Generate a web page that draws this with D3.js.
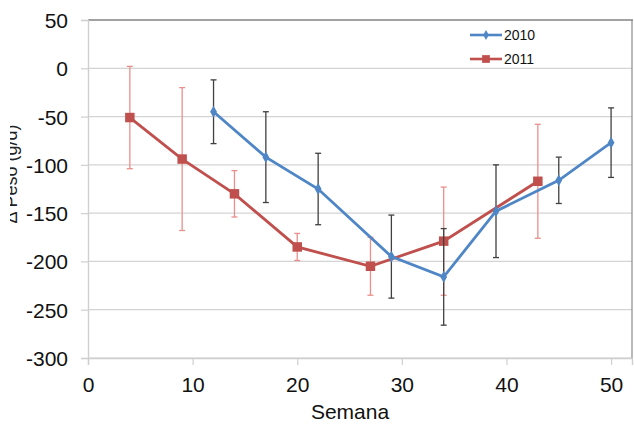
<!DOCTYPE html>
<html>
<head>
<meta charset="utf-8">
<script src="https://cdn.jsdelivr.net/npm/d3@7"></script>
<style>
  body { margin: 0; background: #fff; }
  svg { display: block; font-family: "Liberation Sans", Arial, sans-serif; }
</style>
</head>
<body>
<svg id="chart" width="634" height="428"></svg>
<script>
// semana, valor medio y error de cada serie
const weeks2010 = [12, 17, 22, 29, 34, 39, 45, 50];
const values2010 = [-45, -92, -125, -195, -216, -148, -116, -77];
const errors2010 = [33, 47, 37, 43, 50, 48, 24, 36];

const weeks2011 = [4, 9, 14, 20, 27, 34, 43];
const values2011 = [-51, -94, -130, -185, -205, -179, -117];
const errors2011 = [53, 74, 24, 14, 30, 56, 59];

const xTicks = [0, 10, 20, 30, 40, 50];
const yTicks = [50, 0, -50, -100, -150, -200, -250, -300];

const svg = d3.select('#chart');
const plotL = 88, plotR = 632, plotT = 20, plotB = 358;

const x = d3.scaleLinear().domain([0, 52]).range([plotL, plotR]);
const y = d3.scaleLinear().domain([-300, 50]).range([plotB, plotT]);

// gridlines
svg.append('g')
    .selectAll('line')
    .data(yTicks)
    .join('line')
    .attr('x1', plotL).attr('x2', plotR)
    .attr('y1', d => y(d)).attr('y2', d => y(d))
    .attr('stroke', '#d4d4d4')
    .attr('stroke-width', 1.2);

// frame top + right
svg.append('line')
    .attr('x1', plotL).attr('x2', plotR + 1)
    .attr('y1', plotT).attr('y2', plotT)
    .attr('stroke', '#8a8a8a').attr('stroke-width', 1.6);
svg.append('line')
    .attr('x1', plotR).attr('x2', plotR)
    .attr('y1', plotT).attr('y2', plotB)
    .attr('stroke', '#8a8a8a').attr('stroke-width', 1.2);

// axes (plain hyphen for negatives, like Excel)
const fmt = d => String(d);
const yAxis = svg.append('g')
    .attr('transform', `translate(${plotL},0)`)
    .call(d3.axisLeft(y).tickValues(yTicks).tickFormat(fmt).tickSize(7).tickPadding(13));
const xAxis = svg.append('g')
    .attr('transform', `translate(0,${plotB})`)
    .call(d3.axisBottom(x).tickValues(xTicks).tickFormat(fmt).tickSize(7).tickPadding(12));

[yAxis, xAxis].forEach(ax => {
    ax.select('.domain').attr('stroke', '#cfcfcf').attr('stroke-width', 1.4);
    ax.selectAll('.tick line').attr('stroke', '#cfcfcf').attr('stroke-width', 1.2);
    ax.selectAll('.tick text')
        .attr('fill', '#111')
        .style('font-size', '21px')
        .style('font-family', '"Liberation Sans", Arial, sans-serif');
});
xAxis.selectAll('.tick text').attr('dy', '0.71em');
yAxis.selectAll('.tick text').attr('dy', '0.36em');

svg.append('text')
    .attr('x', 350).attr('y', 419)
    .attr('text-anchor', 'middle')
    .attr('fill', '#111')
    .style('font-size', '21px')
    .text('Semana');

// y title, cut at the left edge like the original
svg.append('clipPath').attr('id', 'cutLabel')
    .append('rect').attr('x', 10).attr('y', 0).attr('width', 30).attr('height', 428);
svg.append('g').attr('clip-path', 'url(#cutLabel)')
    .append('text')
    .attr('transform', 'translate(17,174) rotate(-90)')
    .attr('text-anchor', 'middle')
    .attr('fill', '#222')
    .style('font-size', '18px')
    .text('Δ Peso (g/d)');

function drawSeries(weeks, values, errors, color, errColor, shape, size) {
    const pts = weeks.map((w, i) => ({ w: w, v: values[i], e: errors[i] }));
    const g = svg.append('g');

    const eb = g.append('g').selectAll('g').data(pts).join('g');
    eb.append('line')
        .attr('x1', d => x(d.w)).attr('x2', d => x(d.w))
        .attr('y1', d => y(d.v + d.e)).attr('y2', d => y(d.v - d.e))
        .attr('stroke', errColor).attr('stroke-width', 1.3);
    [1, -1].forEach(s => {
        eb.append('line')
            .attr('x1', d => x(d.w) - 3).attr('x2', d => x(d.w) + 3)
            .attr('y1', d => y(d.v + s * d.e)).attr('y2', d => y(d.v + s * d.e))
            .attr('stroke', errColor).attr('stroke-width', 1.3);
    });

    g.append('path')
        .datum(pts)
        .attr('fill', 'none')
        .attr('stroke', color)
        .attr('stroke-width', 2.8)
        .attr('d', d3.line().x(d => x(d.w)).y(d => y(d.v)));

    g.append('g').selectAll('path').data(pts).join('path')
        .attr('transform', d => `translate(${x(d.w)},${y(d.v)})`)
        .attr('d', d3.symbol().type(shape).size(size))
        .attr('fill', color);
}

drawSeries(weeks2011, values2011, errors2011, '#c0504d', '#eb8f8c', d3.symbolSquare, 90);
drawSeries(weeks2010, values2010, errors2010, '#4f86c6', '#404040', d3.symbolDiamond, 40);

// legend
const legend = [
    { name: '2010', color: '#4f86c6', shape: d3.symbolDiamond, size: 28 },
    { name: '2011', color: '#c0504d', shape: d3.symbolSquare, size: 60 }
];
const lg = svg.append('g').selectAll('g').data(legend).join('g')
    .attr('transform', (d, i) => `translate(470,${35 + i * 24})`);
lg.append('line')
    .attr('x1', 0).attr('x2', 32)
    .attr('stroke', d => d.color).attr('stroke-width', 2.6);
lg.append('path')
    .attr('transform', 'translate(16,0)')
    .attr('d', d => d3.symbol().type(d.shape).size(d.size)())
    .attr('fill', d => d.color);
lg.append('text')
    .attr('x', 34).attr('dy', '0.36em')
    .attr('fill', '#111')
    .style('font-size', '14px')
    .text(d => d.name);
</script>
</body>
</html>
